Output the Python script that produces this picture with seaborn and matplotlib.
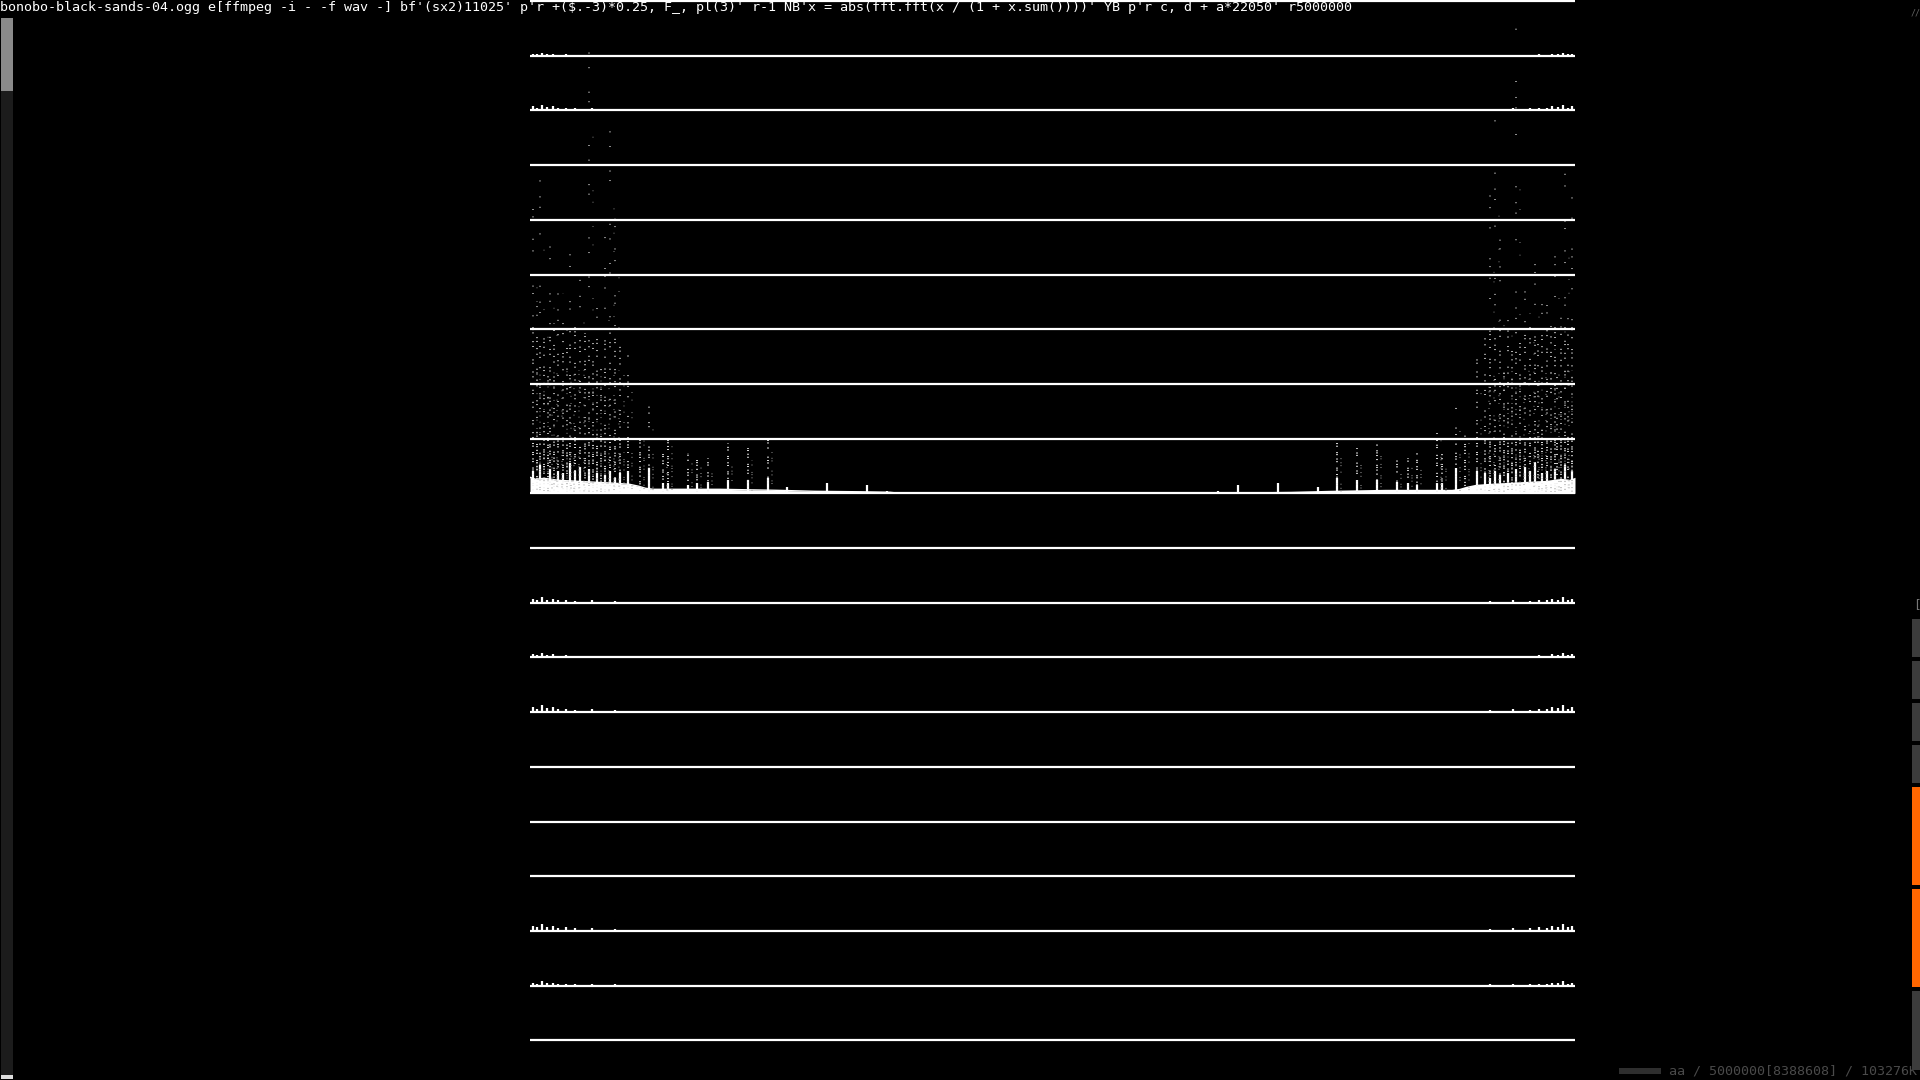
import matplotlib

matplotlib.use("Agg")
import matplotlib.pyplot as plt
import numpy as np
import pandas as pd
import seaborn as sns
from matplotlib.patches import Rectangle

# spectrum of the track, 11025 Hz, mirrored around the Nyquist point
SAMPLE_RATE = 11025
ROW_PX = 54.7
MAIN_ROW = 9
ROWS = list(range(20))

# broad floor of the spectrum (height above the main baseline, px)
FLOOR_HZ = [0, 60, 150, 300, 500, 700, 900, 1050, 1150, 1220, 1300, 1600, 2000, 2600, 3000, 3500, 3800, 3900]
FLOOR_PX = [16, 14, 15, 13, 12, 11, 10, 9, 7, 5, 4, 4, 4, 3, 2, 1.5, 1, 0]

# harmonic peaks (solid part, px)
PEAK_HZ = [32, 105, 211, 295, 348, 422, 475, 527, 622, 707, 791, 844, 897, 950, 1034,
           1255, 1403, 1456, 1667, 1762, 1878, 2089, 2300, 2511, 2711, 3133, 3555, 3766]
PEAK_PX = [22, 28, 24, 22, 20, 30, 22, 26, 24, 20, 18, 22, 15, 20, 22,
           25, 10, 10, 8, 10, 11, 13, 13, 15, 6, 10, 8, 2]

# scattered frames above the floor (top of each column, px)
DUST_HZ = [32, 70, 105, 150, 190, 211, 250, 295, 348, 390, 422, 475, 527, 580, 622, 665, 707,
           750, 791, 844, 897, 950, 1034, 1160, 1255, 1403, 1456, 1667, 1762, 1878, 2089, 2300, 2511]
DUST_PX = [300, 200, 330, 180, 120, 260, 170, 220, 200, 150, 240, 180, 230, 160, 480, 150, 200,
           130, 260, 380, 300, 160, 140, 60, 90, 40, 60, 40, 35, 35, 50, 45, 55]

# small bumps in the other rows
SIDE_ROWS = [1, 2, 11, 12, 13, 17, 18]
SIDE_PX = [2, 4, 4, 3, 5, 5, 3]
SIDE_HZ = [30, 75, 125, 180, 240, 300, 380, 470, 650, 900]
SIDE_SHAPE = [1.0, 0.7, 1.4, 0.8, 1.0, 0.6, 0.7, 0.5, 0.6, 0.4]

TITLE = ("bonobo-black-sands-04.ogg e[ffmpeg -i - -f wav -] bf'(sx2)11025' "
         "p'r +($.-3)*0.25, F_, pl(3)' r-1 NB'x = abs(fft.fft(x / (1 + x.sum())))' "
         "YB p'r c, d + a*22050' r5000000")
STATUS = "aa / 5000000[8388608] / 103276K"

W, H = 1920, 1080

# irregular dot patterns so the columns look like scattered frames
DOT_PATTERNS = [
    (0.5, 2.5, 0.5, 5.0, 0.5, 1.5, 0.5, 8.0),
    (0.5, 4.0, 0.5, 1.8, 0.5, 9.0, 0.5, 3.0),
    (0.5, 6.0, 0.5, 2.2, 0.5, 3.5, 0.5, 12.0),
    (0.5, 1.6, 0.5, 7.0, 0.5, 4.5, 0.5, 2.5),
    (0.5, 3.2, 0.5, 10.0, 0.5, 2.0, 0.5, 5.5),
]


def mirror(values):
    values = np.asarray(values, dtype=float)
    return np.concatenate([values, SAMPLE_RATE - values])


def px_rect(fig, x0, y0, x1, y1, color):
    # rectangle given in screen pixels from the top-left corner
    fig.patches.append(
        Rectangle((x0 / W, 1 - y1 / H), (x1 - x0) / W, (y1 - y0) / H,
                  transform=fig.transFigure, color=color, lw=0, zorder=5)
    )


def dot_style(i, scale):
    pat = DOT_PATTERNS[i % len(DOT_PATTERNS)]
    dashes = tuple(v if k % 2 == 0 else v * scale for k, v in enumerate(pat))
    return ((i * 3) % 11, dashes)


def draw_spectrum(ax):
    base = MAIN_ROW
    floor_df = pd.DataFrame({"hz": FLOOR_HZ, "level": base - np.array(FLOOR_PX) / ROW_PX})
    ax.fill_between(floor_df["hz"], base, floor_df["level"], color="white", lw=0)
    ax.fill_between(SAMPLE_RATE - floor_df["hz"], base, floor_df["level"], color="white", lw=0)
    sns.lineplot(data=floor_df, x="hz", y="level", color="white", lw=1, ax=ax, sort=False)

    peak_x = mirror(PEAK_HZ)
    peak_top = base - np.tile(PEAK_PX, 2) / ROW_PX
    ax.vlines(peak_x, base, peak_top, color="white", lw=1.6)

    dust_x = mirror(DUST_HZ)
    dust_top = np.tile(DUST_PX, 2).astype(float)
    layers = [(0, 55, 0.35, 0.95, "#f0f0f0"),
              (55, 165, 0.8, 0.85, "#d8d8d8"),
              (165, 600, 2.2, 0.75, "#c8c8c8")]
    for lo, hi, scale, alpha, col in layers:
        idx = np.where(dust_top > lo)[0]
        seg_top = np.minimum(dust_top[idx], hi)
        styles = [dot_style(i, scale) for i in idx]
        ax.vlines(dust_x[idx], base - lo / ROW_PX, base - seg_top / ROW_PX,
                  color=col, lw=1.4, linestyles=styles, alpha=alpha)
        # a fainter neighbouring column with another pattern
        styles2 = [dot_style(i + 2, scale * 1.6) for i in idx]
        ax.vlines(dust_x[idx] + 40, base - lo / ROW_PX, base - seg_top * 0.75 / ROW_PX,
                  color="#9a9a9a", lw=1.2, linestyles=styles2, alpha=alpha * 0.8)

    side_x = mirror(SIDE_HZ)
    side_shape = np.tile(SIDE_SHAPE, 2)
    for row, px in zip(SIDE_ROWS, SIDE_PX):
        ax.vlines(side_x, row, row - side_shape * px / ROW_PX, color="white", lw=1.6)


def main() -> None:
    sns.set_theme(style="dark", rc={"axes.facecolor": "black", "figure.facecolor": "black"})

    fig = plt.figure(figsize=(W / 100, H / 100), dpi=100, facecolor="black")
    ax = fig.add_axes([530 / W, 0, 1045 / W, 1])
    ax.set_facecolor("black")
    ax.set_xlim(0, SAMPLE_RATE)
    ax.set_ylim((H - 1) / ROW_PX, -1 / ROW_PX)
    ax.axis("off")

    ax.hlines(ROWS, 0, SAMPLE_RATE, color="white", lw=1.6, capstyle="butt", zorder=3)
    draw_spectrum(ax)

    mono = "DejaVu Sans Mono"
    fig.text(0, 1 - 1 / H, TITLE, color="white", family=mono, fontsize=9.63,
             ha="left", va="top")
    fig.text(1917 / W, 5 / H, STATUS, color="#4a4a4a", family=mono, fontsize=9.6,
             ha="right", va="baseline")
    fig.text(1913 / W, 1 - 598 / H, "[", color="#777777", family=mono, fontsize=9,
             ha="left", va="top")
    fig.text(1911 / W, 1 - 8 / H, "//", color="#666666", family=mono, fontsize=6,
             ha="left", va="top")

    # status bar pieces
    px_rect(fig, 1619, 1068, 1661, 1074, "#2e2e2e")
    # left scroll bar
    px_rect(fig, 1, 18, 13, 1075, "#1c1c1c")
    px_rect(fig, 1, 18, 13, 91, "#8a8a8a")
    px_rect(fig, 1, 1075, 13, 1079, "#dddddd")
    # right side blocks
    for y0, y1, col in [(619, 657, "#3c3c3c"), (661, 699, "#3c3c3c"), (703, 741, "#3c3c3c"),
                        (745, 783, "#3c3c3c"), (787, 885, "#ff6600"), (889, 987, "#ff6600"),
                        (991, 1070, "#3c3c3c")]:
        px_rect(fig, 1912, y0, 1920, y1, col)

    fig.savefig("out.png", dpi=100, facecolor="black")
    plt.close(fig)


if __name__ == "__main__":
    main()
